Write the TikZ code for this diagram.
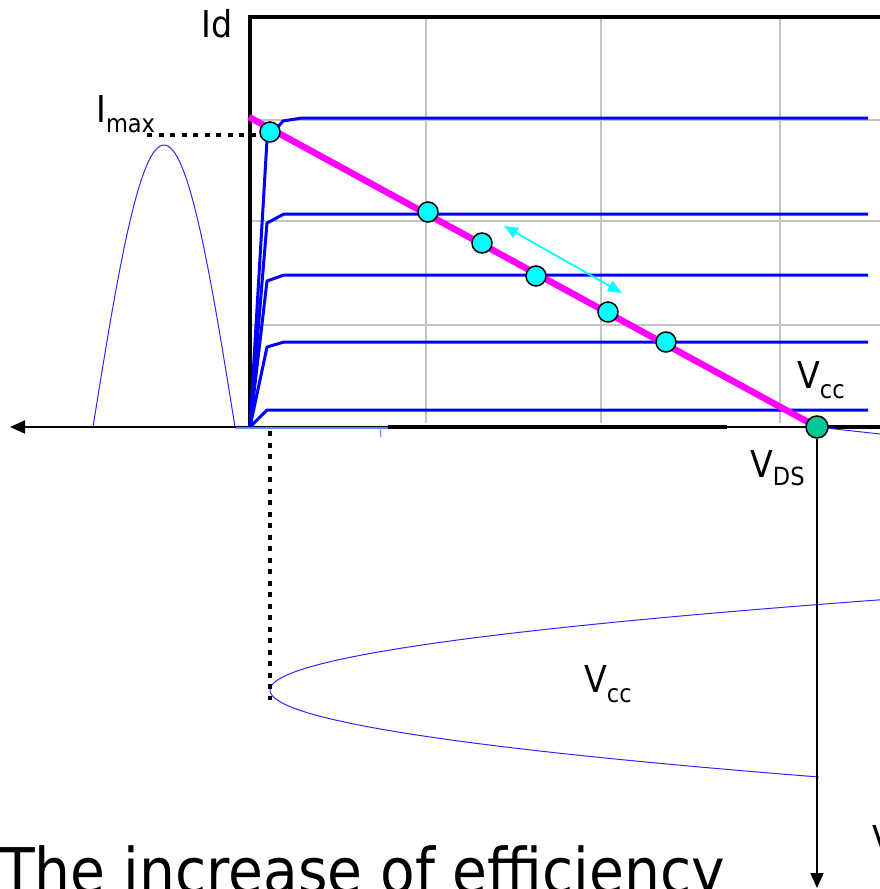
\documentclass[tikz,border=0pt]{standalone}
\usepackage{fontspec}
\setmainfont{DejaVu Sans Condensed}
\usepackage{tikz}
\usetikzlibrary{arrows.meta}
\definecolor{curveblue}{HTML}{0000FF}
\definecolor{waveblue}{HTML}{2A2AFF}
\definecolor{axisblue}{HTML}{5A8CFF}
\definecolor{gridgrey}{HTML}{C4C4C4}
\definecolor{loadpink}{HTML}{FF00FF}
\definecolor{qcyan}{HTML}{00FFFF}
\definecolor{qgreen}{HTML}{00C896}
\newcommand\lblfont{\fontsize{37}{40}\selectfont}
\newcommand\lowsub[2][10pt]{\raisebox{-#1}{\fontsize{25}{25}\selectfont #2}}

\begin{document}
\begin{tikzpicture}[x=1pt, y=-1pt,
  gridline/.style={draw=gridgrey, line width=2pt},
  frame/.style={draw=black, line width=3.2pt},
  curve/.style={draw=curveblue, line width=3pt, line join=round},
  wave/.style={draw=waveblue, line width=1pt},
  load/.style={draw=loadpink, line width=6.5pt},
  qpt/.style={circle, draw=black, line width=1.5pt, fill=qcyan, minimum size=20pt, inner sep=0pt},
  qend/.style={qpt, fill=qgreen, minimum size=22pt},
  dots/.style={draw=black, line width=4.5pt, dash pattern=on 5pt off 6.5pt},
  axis/.style={draw=black, line width=2pt, -{Triangle[length=15pt, width=13pt]}},
  swing/.style={draw=qcyan, line width=1.8pt, {Triangle[length=14pt, width=11pt]}-{Triangle[length=14pt, width=11pt]}},
  lbl/.style={anchor=base west, inner sep=0pt, font=\lblfont}]
  \useasboundingbox (0,0) rectangle (880,889);
  \clip (0,0) rectangle (880,889);

  % grid
  \foreach \gx in {426, 601, 780}
    \draw[gridline] (\gx,17) -- (\gx,423);
  \foreach \gy in {120, 221, 325}
    \draw[gridline] (250,\gy) -- (880,\gy);

  \coordinate (o) at (250,427);
  \coordinate (top) at (250,17);
  \coordinate (ax) at (880,427);
  \coordinate (axl) at (10,427);
  \coordinate (tr) at (880,17);
  \coordinate (vq) at (817,427);

  % axes
  \draw[frame] (o) -- (top) -- (tr);
  \draw[axis] (ax) -- (axl);
  \draw[frame] (388,427) -- (727,427);
  \draw[frame] (vq) -- (ax);

  % output curves
  \draw[curve] (o) -- (267,140) -- (283,121) -- (302,118) -- (868,118);
  \foreach \lv/\kn in {214/223, 275/281, 342/347}
    \draw[curve] (o) -- (267,\kn) -- (284,\lv) -- (868,\lv);
  \draw[curve] (o) -- (267,410) -- (868,410);

  % input and output swings
  \draw[wave] plot[domain=0:180, samples=60] ({93+0.7889*\x},{427-282*sin(\x)});
  \draw[draw=axisblue, line width=1.5pt] (236,428) -- (388,428);
  \draw[draw=axisblue, line width=1pt] (380,429) -- (381,437);
  \draw[wave] plot[domain=0:95, samples=50] ({270+0.075*\x*\x},{690-\x});
  \draw[wave] plot[domain=0:87, samples=50] ({270+0.0725*\x*\x},{690+\x});

  % load line and operating points
  \coordinate (ll) at (249,117);
  \draw[load] (ll) -- (vq);
  \coordinate (wr) at (880,434);
  \draw[wave] (vq) -- (wr);
  \node[qend] (qcc) at (vq) {};
  \node[qpt] (q1) at (270,132) {};
  \node[qpt] (q2) at (428,212) {};
  \node[qpt] (q3) at (482,243) {};
  \node[qpt] (q4) at (536,276) {};
  \node[qpt] (q5) at (608,312) {};
  \node[qpt] (q6) at (666,342) {};

  \coordinate (sw1) at (504,226);
  \coordinate (sw2) at (622,293);
  \draw[swing] (sw1) -- (sw2);

  % projections
  \coordinate (im) at (147,135);
  \coordinate (imr) at (262,135);
  \draw[dots] (im) -- (imr);
  \coordinate (dt) at (270,431);
  \coordinate (db) at (270,700);
  \draw[dots] (dt) -- (db);

  \coordinate (tb) at (817,888);
  \draw[axis] (qcc.south) -- (tb);

  % labels
  \node[lbl] (id) at (201,37) {Id};
  \node[lbl] (imax) at (96,122) {I\lowsub{max}};
  \node[lbl] (vcc) at (797,388) {V\lowsub{cc}};
  \node[lbl] (vds) at (750,477) {V\lowsub[8pt]{DS}};
  \node[lbl] (vcc2) at (584,692) {V\lowsub{cc}};
  \node[lbl] (vr) at (872,852) {V};
  \node[anchor=base west, inner sep=0pt, font=\fontsize{63}{70}\selectfont] (cap) at (0,893) {The increase of efficiency};
\end{tikzpicture}
\end{document}
